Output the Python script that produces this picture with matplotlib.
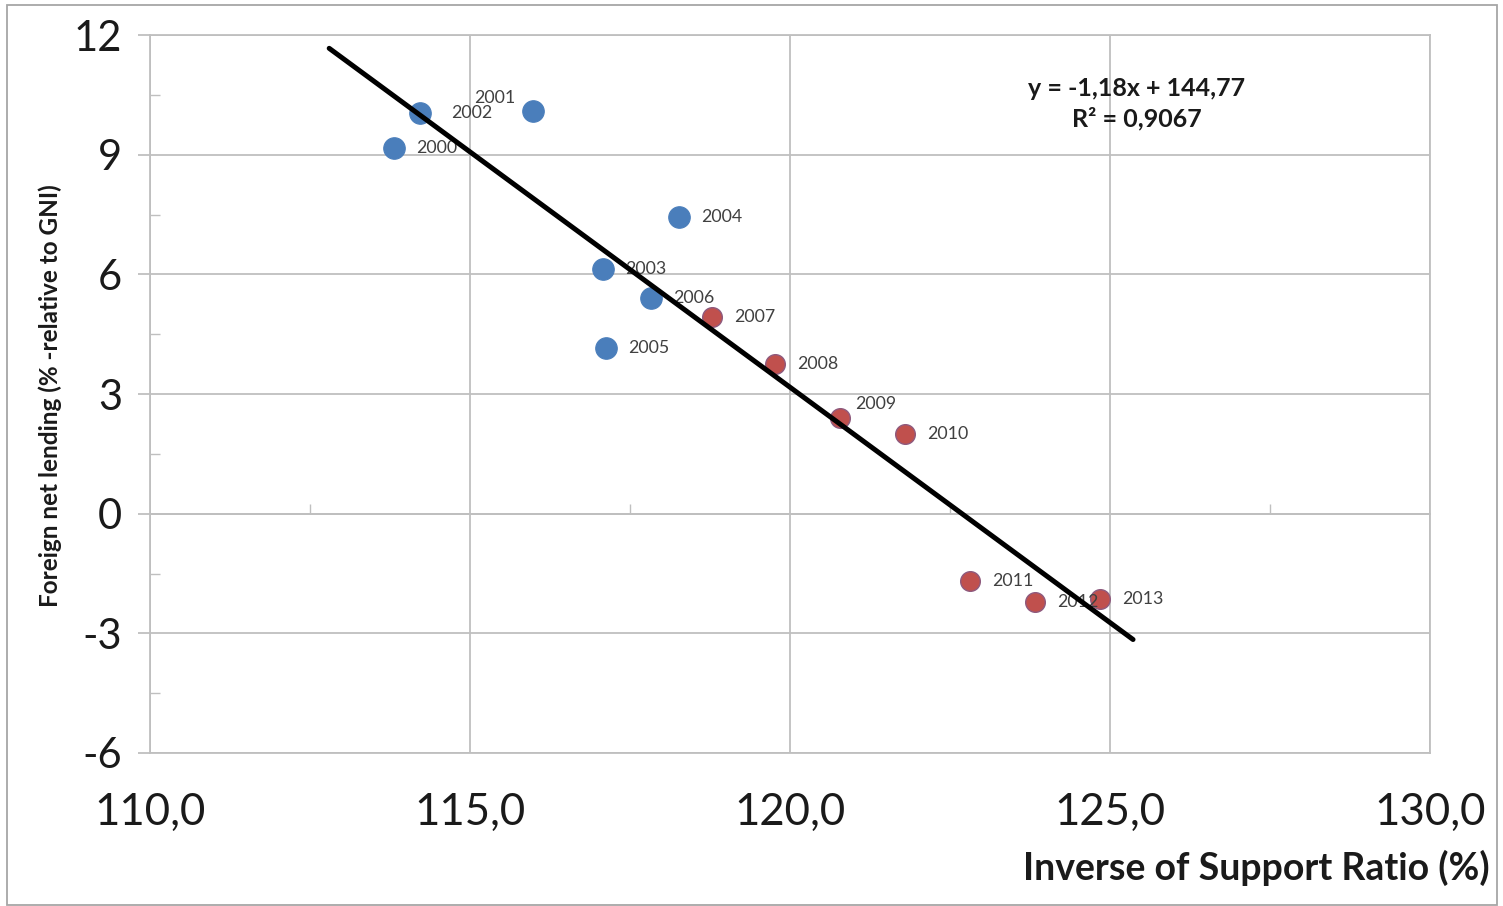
import matplotlib
matplotlib.use("Agg")
import matplotlib.pyplot as plt
from matplotlib.ticker import MultipleLocator, FixedLocator, FuncFormatter
from matplotlib.patches import Rectangle

# ---- data ----
years = ["2000", "2001", "2002", "2003", "2004", "2005", "2006",
         "2007", "2008", "2009", "2010", "2011", "2012", "2013"]
support_ratio_inv = [113.81, 115.98, 114.22, 117.08, 118.27, 117.13, 117.83,
                     118.78, 119.77, 120.78, 121.80, 122.81, 123.83, 124.84]
net_lending = [9.17, 10.10, 10.05, 6.14, 7.44, 4.16, 5.41,
               4.94, 3.76, 2.41, 2.00, -1.68, -2.21, -2.13]
period_split = 7  # first 7 points (2000-2006) blue, rest red
trend_slope = -1.18
trend_intercept = 144.77
trend_r2 = 0.9067
trend_x_range = [112.8, 125.36]
x_ticks = [110, 115, 120, 125, 130]
y_ticks = [-6, -3, 0, 3, 6, 9, 12]

# label offsets in points (layout only)
label_offsets = {"2001": (-27, 9.5), "2002": (22, 0), "2009": (11, 10)}

plt.rcParams['font.family'] = ['Lato', 'DejaVu Sans']
plt.rcParams['axes.unicode_minus'] = False

fig = plt.figure(figsize=(15.03, 9.06), dpi=100)
ax = fig.add_axes([150/1503, 1-753/906, (1430-150)/1503, (753-35)/906])

grid_c = "#BFBFBF"
ax.set_xlim(110, 130)
ax.set_ylim(-6, 12)
ax.set_xticks(x_ticks)
ax.set_yticks(y_ticks)
ax.xaxis.set_major_formatter(FuncFormatter(lambda v, p: f"{v:.1f}".replace(".", ",")))
ax.yaxis.set_minor_locator(MultipleLocator(1.5))
ax.grid(True, which="major", color=grid_c, linewidth=1.3, zorder=0)
for s in ax.spines.values():
    s.set_color(grid_c)
    s.set_linewidth(1.3)
ax.tick_params(axis="x", which="major", length=0, pad=28, labelsize=31.5, colors="#1a1a1a")
ax.tick_params(axis="y", which="major", length=9, width=1.3, color=grid_c, pad=11,
               labelsize=30, labelcolor="#1a1a1a", direction="out")
ax.tick_params(axis="y", which="minor", length=7, width=1.0, color=grid_c, direction="in")
ax.set_axisbelow(True)

# secondary x axis crossing at y=0 with minor tick marks
sec = ax.secondary_xaxis(6/18)
sec.set_xticks([])
sec.xaxis.set_minor_locator(FixedLocator([112.5, 117.5, 122.5, 127.5]))
sec.tick_params(axis="x", which="minor", direction="in", length=7, width=1.0, color=grid_c,
                labelbottom=False)
sec.spines["bottom"].set_color(grid_c)
sec.spines["bottom"].set_linewidth(1.3)

# points
ax.scatter(support_ratio_inv[:period_split], net_lending[:period_split], s=240,
           color="#4A7EBB", edgecolor="#4A7EBB", linewidth=0.8, zorder=3)
ax.scatter(support_ratio_inv[period_split:], net_lending[period_split:], s=200,
           color="#C0504D", edgecolor="#8E5A7E", linewidth=1.0, zorder=3)

for yr, xv, yv in zip(years, support_ratio_inv, net_lending):
    dx, dy = label_offsets.get(yr, (16, 0))
    ax.annotate(yr, (xv, yv), xytext=(dx, dy), textcoords="offset points",
                fontsize=12.8, color="#404040", va="center", ha="left" if dx > 0 else "center",
                zorder=4)

# trend line
tx = trend_x_range
ty = [trend_slope * v + trend_intercept for v in tx]
ax.plot(tx, ty, color="black", linewidth=3.6, solid_capstyle="round", zorder=5)

eq = f"y = {trend_slope:.2f}x + {trend_intercept:.2f}".replace(".", ",")
r2 = f"R² = {trend_r2:.4f}".replace(".", ",")
ax.text(1137/1503, 1-88/906, eq, transform=fig.transFigure, ha="center", va="center",
        fontsize=18, fontweight="bold", color="#1a1a1a")
ax.text(1137/1503, 1-119/906, r2, transform=fig.transFigure, ha="center", va="center",
        fontsize=18, fontweight="bold", color="#1a1a1a")

fig.text(50/1503, 1-396/906, "Foreign net lending (% -relative to GNI)", rotation=90,
         ha="center", va="center", fontsize=17.5, fontweight="bold", color="#1a1a1a")
fig.text(1490/1503, 1-868/906, "Inverse of Support Ratio (%)", ha="right", va="center",
         fontsize=27, fontweight="bold", color="#1a1a1a")

# outer frame
fig.patches.append(Rectangle((7/1503, 1-905/906), (1497-7)/1503, (905-5)/906,
                             transform=fig.transFigure, fill=False,
                             edgecolor="#A6A6A6", linewidth=1.3))

fig.savefig("out.png", dpi=100)
